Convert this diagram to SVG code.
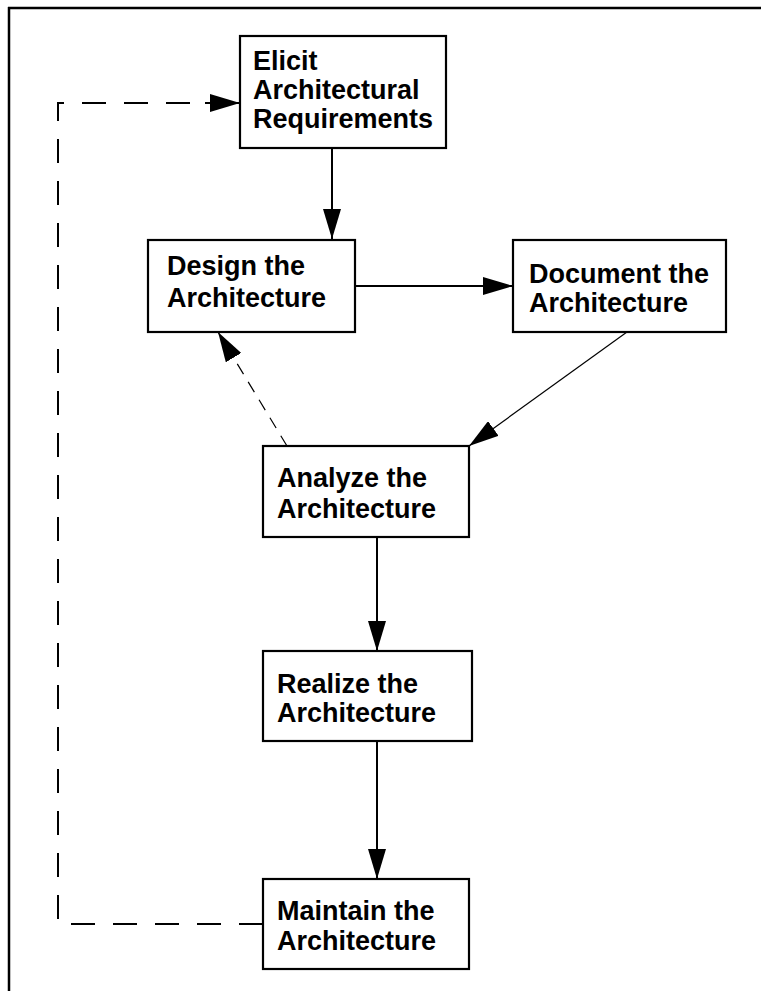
<svg xmlns="http://www.w3.org/2000/svg" width="761" height="991" viewBox="0 0 761 991">
<style>
.box{fill:#fff;stroke:#000;stroke-width:2.2}
.t{font-family:"Liberation Sans",Arial,Helvetica,sans-serif;font-weight:bold;font-size:27px;fill:#000}
.c{fill:none;stroke:#000;stroke-width:2}
.thin{fill:none;stroke:#000;stroke-width:1.2}
.loop{fill:none;stroke:#000;stroke-width:2;stroke-dasharray:24 18}
.d2{fill:none;stroke:#000;stroke-width:1.2;stroke-dasharray:12 9}
</style>
<defs>
<marker id="ah" markerUnits="userSpaceOnUse" markerWidth="32" markerHeight="18" refX="30" refY="9" orient="auto">
<path d="M0,0 L30,9 L0,18 Z" fill="#000"/>
</marker>
</defs>
<g id="frame">
<line x1="8" y1="8" x2="761" y2="8" stroke="#000" stroke-width="2.5"/>
<line x1="9" y1="7" x2="9" y2="991" stroke="#000" stroke-width="2.5"/>
</g>
<g id="connectors">
<line class="c" x1="332" y1="148" x2="332" y2="239" marker-end="url(#ah)"/>
<line class="c" x1="355" y1="286" x2="513" y2="286" marker-end="url(#ah)"/>
<line class="thin" x1="627" y1="332" x2="469" y2="446" marker-end="url(#ah)"/>
<line class="d2" x1="287" y1="446" x2="218" y2="332" marker-end="url(#ah)"/>
<line class="c" x1="377" y1="537" x2="377" y2="651" marker-end="url(#ah)"/>
<line class="c" x1="377" y1="741" x2="377" y2="879" marker-end="url(#ah)"/>
<path class="loop" d="M263,924 L58,924 L58,103 L212,103"/>
<line class="c" x1="205" y1="103" x2="240" y2="103" marker-end="url(#ah)"/>
</g>
<g id="elicit">
<rect class="box" x="240" y="36" width="206" height="112"/>
<text class="t" x="253" y="70">Elicit</text>
<text class="t" x="253" y="99">Architectural</text>
<text class="t" x="253" y="128">Requirements</text>
</g>
<g id="design">
<rect class="box" x="148" y="240" width="207" height="92"/>
<text class="t" x="167" y="275">Design the</text>
<text class="t" x="167" y="307">Architecture</text>
</g>
<g id="document">
<rect class="box" x="513" y="240" width="213" height="92"/>
<text class="t" x="529" y="283">Document the</text>
<text class="t" x="529" y="312">Architecture</text>
</g>
<g id="analyze">
<rect class="box" x="263" y="446" width="206" height="91"/>
<text class="t" x="277" y="487">Analyze the</text>
<text class="t" x="277" y="518">Architecture</text>
</g>
<g id="realize">
<rect class="box" x="263" y="651" width="209" height="90"/>
<text class="t" x="277" y="693">Realize the</text>
<text class="t" x="277" y="722">Architecture</text>
</g>
<g id="maintain">
<rect class="box" x="263" y="879" width="206" height="90"/>
<text class="t" x="277" y="920">Maintain the</text>
<text class="t" x="277" y="950">Architecture</text>
</g>
</svg>
